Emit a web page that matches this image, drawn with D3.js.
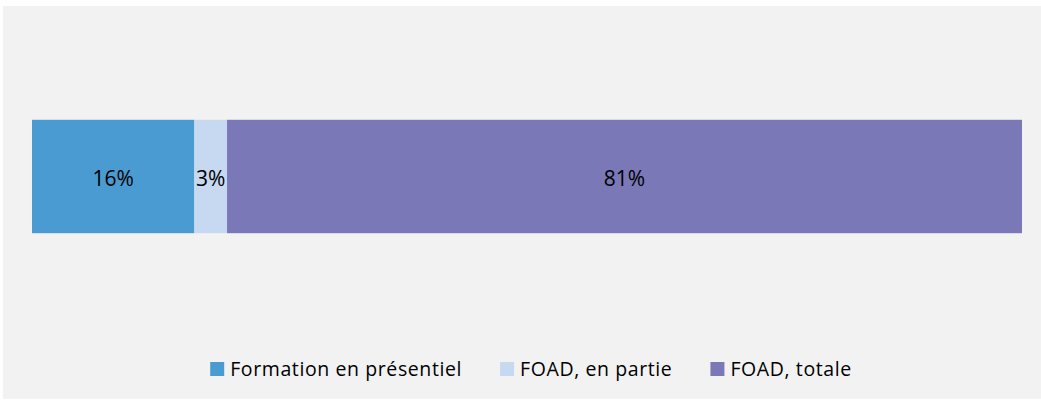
<!DOCTYPE html>
<html>
<head>
<meta charset="utf-8">
<script src="https://cdn.jsdelivr.net/npm/d3@7"></script>
<style>
  body { margin: 0; background: #fff; }
  text { font-family: "Open Sans", "Liberation Sans", Arial, sans-serif; fill: #000; }
</style>
</head>
<body>
<div id="chart"></div>
<script>
// Data
const categories = ['Répartition'];
const seriesNames = ['Formation en présentiel', 'FOAD, en partie', 'FOAD, totale'];
const seriesValues = [16.4, 3.3, 80.3];
const seriesLabels = ['16%', '3%', '81%'];
const seriesColors = ['#4a9bd2', '#c6d9f0', '#7b78b8'];

const W = 1041, H = 401;

const svg = d3.select('#chart')
  .append('svg')
  .attr('width', W)
  .attr('height', H);

// chart area background
svg.append('rect')
  .attr('x', 3)
  .attr('y', 6)
  .attr('width', W - 3)
  .attr('height', H - 8)
  .attr('fill', '#f2f2f2');

// Scales
const xScale = d3.scaleLinear()
  .domain([0, d3.sum(seriesValues)])
  .range([32, 1022]);

const yScale = d3.scaleBand()
  .domain(categories)
  .range([82, 271])
  .padding(0.25);

// stack the values
const stacked = [];
let acc = 0;
seriesValues.forEach((v, i) => {
  stacked.push({ name: seriesNames[i], label: seriesLabels[i], color: seriesColors[i], x0: acc, x1: acc + v });
  acc += v;
});

const bars = svg.append('g');

bars.selectAll('rect')
  .data(stacked)
  .enter()
  .append('rect')
  .attr('x', d => xScale(d.x0))
  .attr('y', yScale(categories[0]))
  .attr('width', d => xScale(d.x1) - xScale(d.x0))
  .attr('height', yScale.bandwidth())
  .attr('fill', d => d.color);

bars.selectAll('text')
  .data(stacked)
  .enter()
  .append('text')
  .attr('x', d => (xScale(d.x0) + xScale(d.x1)) / 2)
  .attr('y', yScale(categories[0]) + yScale.bandwidth() / 2 + 9)
  .attr('text-anchor', 'middle')
  .style('font-size', '21px')
  .text(d => d.label);

// Legend
const legend = svg.append('g').attr('class', 'legend');

const items = legend.selectAll('.legend-item')
  .data(stacked)
  .enter()
  .append('g')
  .attr('class', 'legend-item');

items.append('rect')
  .attr('x', 0)
  .attr('y', 362)
  .attr('width', 14)
  .attr('height', 14)
  .attr('fill', d => d.color);

items.append('text')
  .attr('x', 20)
  .attr('y', 376)
  .style('font-size', '19.5px')
  .style('letter-spacing', '0.6px')
  .text(d => d.name);

// place items one after the other, then center the whole row
let offset = 0;
items.each(function () {
  const g = d3.select(this);
  const w = 20 + g.select('text').node().getComputedTextLength();
  g.attr('transform', `translate(${offset},0)`);
  offset += w + 38;
});
const total = offset - 38;
legend.attr('transform', `translate(${531 - total / 2},0)`);
</script>
</body>
</html>
